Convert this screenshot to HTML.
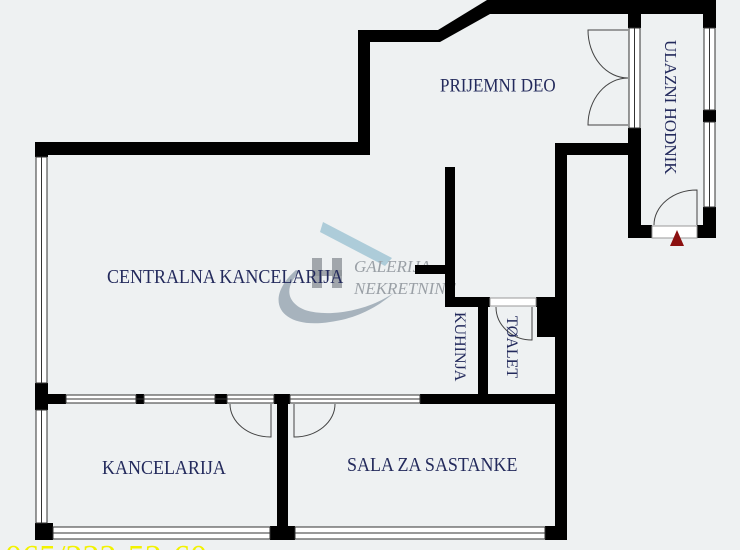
<!DOCTYPE html>
<html><head><meta charset="utf-8"><style>
html,body{margin:0;padding:0;background:#eef1f2;}
svg{display:block;}
text{font-family:"Liberation Serif",serif;fill:#232a5c;}
</style></head><body>
<svg width="740" height="550" viewBox="0 0 740 550" xmlns="http://www.w3.org/2000/svg">
<rect width="740" height="550" fill="#eef1f2"/>
<!-- watermark -->
<path d="M323 222 L392 258 L385 266 L320 232 Z" fill="#9cc3d2" opacity="0.8"/>
<path d="M296 270 C262 300 280 330 330 322 C360 318 380 305 395 292 C370 310 330 318 305 310 C285 302 285 285 300 272 Z" fill="#9aa8b4" opacity="0.85"/>
<rect x="312" y="258" width="10" height="30" fill="#8d9499" opacity="0.8"/>
<rect x="332" y="258" width="10" height="30" fill="#8d9499" opacity="0.8"/>
<rect x="312" y="270" width="30" height="6" fill="#8d9499" opacity="0.8"/>
<text x="354" y="272" font-size="17" font-style="italic" style="fill:#9aa0a6">GALERIJA</text>
<text x="354" y="294" font-size="17" font-style="italic" style="fill:#9aa0a6">NEKRETNINE</text>

<g fill="#000">
<rect x="35" y="142" width="335" height="13"/>
<rect x="358" y="30" width="12" height="125"/>
<rect x="358" y="30" width="82" height="12"/>
<polygon points="438,30 487,0 490,14 440,42"/>
<rect x="487" y="0" width="229" height="14"/>
<rect x="35" y="142" width="13" height="15"/>
<rect x="35" y="383" width="13" height="27"/>
<rect x="35" y="523" width="18" height="17"/>
<rect x="270" y="526" width="25" height="14"/>
<rect x="545" y="526" width="22" height="14"/>
<rect x="555" y="143" width="12" height="397"/>
<rect x="555" y="143" width="85" height="12"/>
<rect x="628" y="0" width="13" height="28"/>
<rect x="628" y="128" width="13" height="110"/>
<rect x="703" y="0" width="13" height="28"/>
<rect x="703" y="110" width="13" height="12"/>
<rect x="703" y="207" width="13" height="31"/>
<rect x="628" y="225" width="24" height="13"/>
<rect x="697" y="225" width="19" height="13"/>
<rect x="35" y="394" width="31" height="10"/>
<rect x="136" y="394" width="8" height="10"/>
<rect x="215" y="394" width="12" height="10"/>
<rect x="274" y="394" width="16" height="10"/>
<rect x="420" y="394" width="147" height="10"/>
<rect x="277" y="394" width="11" height="146"/>
<rect x="445" y="167" width="10" height="138"/>
<rect x="415" y="265" width="40" height="9"/>
<rect x="445" y="297" width="45" height="10"/>
<rect x="536" y="297" width="20" height="10"/>
<rect x="537" y="297" width="19" height="40"/>
<rect x="478" y="297" width="10" height="100"/>
</g>

<g fill="#fff" stroke="#333" stroke-width="1">
<rect x="36" y="157" width="11" height="226"/>
<rect x="36" y="410" width="11" height="113"/>
<rect x="53" y="527" width="217" height="12"/>
<rect x="295" y="527" width="250" height="12"/>
<rect x="66" y="395" width="70" height="8"/>
<rect x="144" y="395" width="71" height="8"/>
<rect x="227" y="395" width="47" height="8"/>
<rect x="290" y="395" width="130" height="8"/>
<rect x="629" y="28" width="11" height="100"/>
<rect x="704" y="28" width="11" height="82"/>
<rect x="704" y="122" width="11" height="85"/>
<rect x="652" y="226" width="45" height="12" stroke="#999"/>
<rect x="490" y="298" width="46" height="8" stroke="#999"/>
</g>
<g stroke="#333" stroke-width="1">
<line x1="41.5" y1="157" x2="41.5" y2="383"/>
<line x1="41.5" y1="410" x2="41.5" y2="523"/>
<line x1="53" y1="533" x2="270" y2="533"/>
<line x1="295" y1="533" x2="545" y2="533"/>
<line x1="66" y1="399" x2="274" y2="399"/>
<line x1="290" y1="399" x2="420" y2="399"/>
<line x1="634.5" y1="28" x2="634.5" y2="128"/>
<line x1="709.5" y1="28" x2="709.5" y2="110"/>
<line x1="709.5" y1="122" x2="709.5" y2="207"/>
</g>
<g fill="none" stroke="#444" stroke-width="1">
<path d="M271 404 V437 A41 33 0 0 1 230 404"/>
<path d="M294 404 V437 A41 33 0 0 0 335 404"/>
<path d="M628 30 H588 A40 48 0 0 0 628 78"/>
<path d="M628 125 H588 A40 47 0 0 1 628 78"/>
<path d="M697 225 V190 A43 35 0 0 0 654 225"/>
<path d="M532 307 V340 A36 33 0 0 1 496 307"/>
</g>
<polygon points="677,230 684,246 670,246" fill="#8b1010"/>

<g transform="scale(1,1.1)">
<text x="107" y="257.5" font-size="18">CENTRALNA KANCELARIJA</text>
<text x="440" y="83" font-size="17">PRIJEMNI DEO</text>
<text x="102" y="431" font-size="18">KANCELARIJA</text>
<text x="347" y="428" font-size="18">SALA ZA SASTANKE</text>
</g>
<text transform="translate(665,40) rotate(90)" font-size="17">ULAZNI HODNIK</text>
<text transform="translate(455,312) rotate(90)" font-size="16">KUHINJA</text>
<text transform="translate(507,316) rotate(90)" font-size="16">TØALET</text>
<text x="5" y="568" font-size="34" style="fill:#f2f200">065/222-52-60</text>
</svg>
</body></html>
